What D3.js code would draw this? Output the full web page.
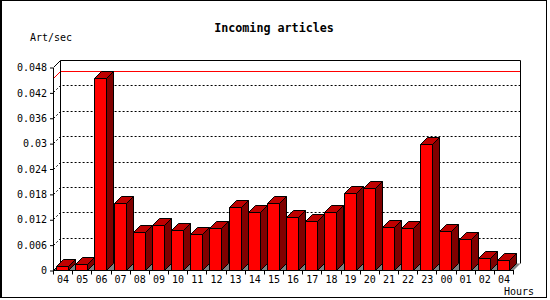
<!DOCTYPE html>
<html>
<head>
<meta charset="utf-8">
<script src="https://cdn.jsdelivr.net/npm/d3@7"></script>
<style>
html, body { margin: 0; padding: 0; background: #fff; }
svg { display: block; }
text { font-family: "DejaVu Sans Mono", "Liberation Mono", monospace; }
</style>
</head>
<body>
<svg id="chart" width="550" height="300"></svg>
<script>
// ---- data ----
const hours = ["04","05","06","07","08","09","10","11","12","13","14","15","16","17","18","19","20","21","22","23","00","01","02","04"];
const artPerSec = [0.00095,0.0014,0.0453,0.0159,0.0090,0.0106,0.0095,0.0084,0.0099,0.0148,0.0137,0.0158,0.0125,0.0116,0.0137,0.0181,0.0193,0.0102,0.0099,0.0297,0.0092,0.0073,0.0028,0.0023];
const yTickValues = [0,0.006,0.012,0.018,0.024,0.03,0.036,0.042,0.048];
const yTickLabels = ["0","0.006","0.012","0.018","0.024","0.03","0.036","0.042","0.048"];
const titleText = "Incoming articles";
const yTitle = "Art/sec";
const xTitle = "Hours";

// ---- layout ----
const svg = d3.select("#chart");
const DX = 7, DY = 7;           // 3D depth offset
const y = d3.scaleLinear().domain([0, 0.048]).range([270.5, 67.5]);
const x = d3.scaleBand().domain(d3.range(hours.length)).range([53.5, 513.5]).paddingInner(0).paddingOuter(0);
const x0 = x.range()[0], x1 = x.range()[1];
const yb = y(0), yt = y(0.048);
const snap = v => Math.floor(v) + 0.5;

// frame
svg.append("rect").attr("x",0.5).attr("y",0.5).attr("width",546).attr("height",297)
  .attr("fill","#fff").attr("stroke","#000").attr("stroke-width",1);
svg.append("line").attr("x1",1.5).attr("x2",1.5).attr("y1",0).attr("y2",298).attr("stroke","#000");

// back wall
svg.append("rect").attr("x",x0+DX).attr("y",yt-DY).attr("width",x1-x0).attr("height",yb-yt)
  .attr("fill","#fff").attr("stroke","none");

// grid: dotted lines on the back wall plus diagonals on the side wall
const gridVals = yTickValues.filter(v => v > 0 && v < 0.048);
const grid = svg.append("g").attr("stroke","#000").attr("stroke-dasharray","2,2").attr("fill","none");
gridVals.forEach(v => {
  const yy = snap(y(v));
  grid.append("path").attr("d", `M${x0},${yy}L${x0+DX},${yy-DY}L${x1+DX},${yy-DY}`);
});

// max line
const maxV = d3.max(artPerSec);
const ym = snap(y(maxV));
svg.append("path").attr("d", `M${x0},${ym}L${x0+DX},${ym-DY}L${x1+DX},${ym-DY}`)
  .attr("stroke","#ff0000").attr("fill","none");

// wall outlines
svg.append("path").attr("d",
  `M${x0},${yt}L${x0+DX},${yt-DY}L${x1+DX},${yt-DY}L${x1+DX},${yb-DY}` +
  `M${x0+DX},${yt-DY}L${x0+DX},${yb-DY}`)
  .attr("stroke","#000").attr("fill","none");

// floor
svg.append("path").attr("d", `M${x0},${yb}L${x1},${yb}L${x1+DX},${yb-DY}L${x0+DX},${yb-DY}Z`)
  .attr("fill","#808080").attr("stroke","none");
svg.append("path").attr("d", `M${x0},${yb}L${x0+DX},${yb-DY}`).attr("stroke","#000");

// bars
const bw = 12;
const bars = svg.append("g").attr("stroke","#000").attr("stroke-width",1).attr("stroke-linejoin","miter");
artPerSec.forEach((v, i) => {
  const l = snap(x(i) + 3), r = l + bw, t = snap(y(v)), b = yb;
  bars.append("path").attr("fill","#800000")
    .attr("d", `M${r},${t}L${r+DX},${t-DY}L${r+DX},${b-DY}L${r},${b}Z`);
  bars.append("path").attr("fill","#c00000")
    .attr("d", `M${l},${t}L${l+DX},${t-DY}L${r+DX},${t-DY}L${r},${t}Z`);
  bars.append("path").attr("fill","#ff0000")
    .attr("d", `M${l},${t}L${r},${t}L${r},${b}L${l},${b}Z`);
});

// y axis
svg.append("g").attr("transform", `translate(${x0 - 0.5},0)`)
  .call(d3.axisLeft(y).tickValues(yTickValues).tickFormat((d,i)=>yTickLabels[i])
        .tickSize(3).tickSizeOuter(0).tickPadding(3))
  .call(g => g.selectAll("text").attr("font-size","10px").attr("font-family","DejaVu Sans Mono").attr("fill","#000"))
  .call(g => g.selectAll("line,path").attr("stroke","#000"));

// x axis (labels at band centres)
svg.append("g").attr("transform", `translate(0,${yb - 0.5})`)
  .call(d3.axisBottom(x).tickFormat(i => hours[i]).tickSize(0).tickSizeOuter(0).tickPadding(6))
  .call(g => g.selectAll("text").attr("font-size","10px").attr("font-family","DejaVu Sans Mono").attr("fill","#000"))
  .call(g => g.selectAll("path").attr("stroke","#000"));
// x ticks at band boundaries
const bounds = d3.range(hours.length + 1).map(i => snap(i < hours.length ? x(i) : x1));
svg.append("g").selectAll("line").data(bounds).join("line")
  .attr("x1", d => d).attr("x2", d => d).attr("y1", yb).attr("y2", yb + 4).attr("stroke","#000");

// titles
svg.append("text").attr("x",274).attr("y",32).attr("text-anchor","middle")
  .attr("font-size","11.7px").attr("font-weight","bold").text(titleText);
svg.append("text").attr("x",30).attr("y",41).attr("font-size","10px").text(yTitle);
svg.append("text").attr("x",504).attr("y",295).attr("font-size","10px").text(xTitle);
</script>
</body>
</html>
